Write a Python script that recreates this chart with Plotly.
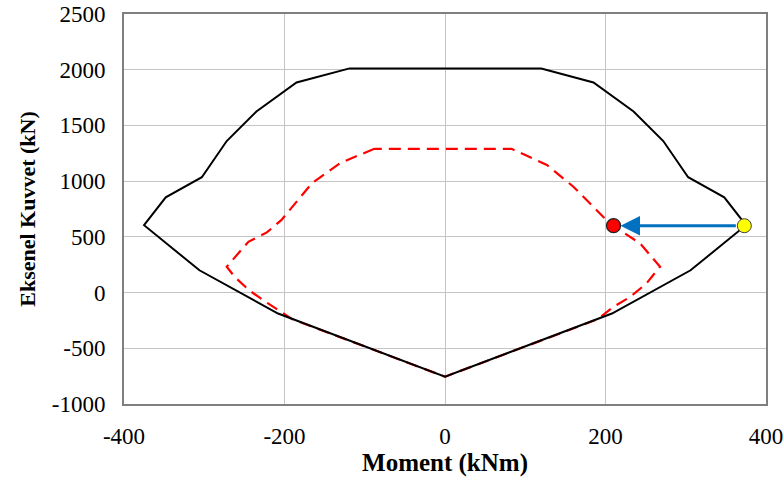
import plotly.graph_objects as go

# Interaction diagram: nominal capacity envelope (solid black)
moment_nominal = [-120, -185, -235, -272, -303, -348, -375, -306, -208, 0,
                  208, 306, 375, 348, 303, 272, 235, 185, 120, -120]
axial_nominal = [2010, 1885, 1625, 1360, 1035, 855, 605, 200, -188, -755,
                 -188, 200, 605, 855, 1035, 1360, 1625, 1885, 2010, 2010]

# Design (reduced) capacity envelope (dashed red)
moment_design = [-88, -130, -166, -204, -222, -245, -272, -262, -244, -220, -190, 0,
                 190, 210, 231, 251, 268, 243, 224, 210, 197, 160, 127, 83, -88]
axial_design = [1290, 1165, 980, 650, 540, 456, 232, 140, 20, -100, -240, -755,
                -240, -127, -38, 82, 232, 442, 531, 600, 680, 950, 1145, 1290, 1290]

# Demand point before and after reduction
demand_before = (373, 600)
demand_after = (210, 600)

x_ticks = [-400, -200, 0, 200, 400]
y_ticks = [-1000, -500, 0, 500, 1000, 1500, 2000, 2500]

FONT = "Liberation Serif, Times New Roman, serif"

fig = go.Figure()

# dashed design envelope first so the solid envelope sits on top where they coincide
fig.add_trace(go.Scatter(
    x=moment_design, y=axial_design, mode="lines",
    line=dict(color="#FF0000", width=2.2, dash="12px,7px"),
    showlegend=False, hoverinfo="skip"))

fig.add_trace(go.Scatter(
    x=moment_nominal, y=axial_nominal, mode="lines",
    line=dict(color="black", width=2), showlegend=False, hoverinfo="skip"))

fig.add_annotation(
    x=demand_after[0], y=demand_after[1], ax=demand_before[0], ay=demand_before[1],
    xref="x", yref="y", axref="x", ayref="y", text="",
    showarrow=True, arrowhead=2, arrowsize=1.3, arrowwidth=3, arrowcolor="#0070C0",
    standoff=7, startstandoff=7)

fig.add_trace(go.Scatter(
    x=[demand_before[0]], y=[demand_before[1]], mode="markers",
    marker=dict(color="#FFFF00", size=14, line=dict(color="#404040", width=1)),
    showlegend=False, hoverinfo="skip"))

fig.add_trace(go.Scatter(
    x=[demand_after[0]], y=[demand_after[1]], mode="markers",
    marker=dict(color="#FF0000", size=14, line=dict(color="#202020", width=1.2)),
    showlegend=False, hoverinfo="skip"))

axis_common = dict(
    showgrid=True, gridcolor="#C4C4C4", gridwidth=1.3, automargin=False,
    zeroline=False, showline=True, linecolor="#7F7F7F", linewidth=2, mirror=True,
    ticks="", tickfont=dict(family=FONT, size=23, color="black"),
)

fig.update_xaxes(
    range=[-400, 400], tickvals=x_ticks, ticktext=[str(v) for v in x_ticks],
    ticklabelstandoff=10,
    title=dict(text="Moment (kNm)", font=dict(family=FONT, size=25, color="black", weight="bold"),
               standoff=4),
    **axis_common)
fig.update_yaxes(
    range=[-1000, 2500], tickvals=y_ticks, ticktext=[str(v) for v in y_ticks],
    ticklabelstandoff=12,
    title=dict(text="Eksenel Kuvvet (kN)", font=dict(family=FONT, size=22, color="black", weight="bold"),
               standoff=10),
    **axis_common)

fig.update_layout(
    width=784, height=482,
    margin=dict(l=124, r=18, t=14, b=78),
    paper_bgcolor="white", plot_bgcolor="white",
)

fig.write_html("out.html")
